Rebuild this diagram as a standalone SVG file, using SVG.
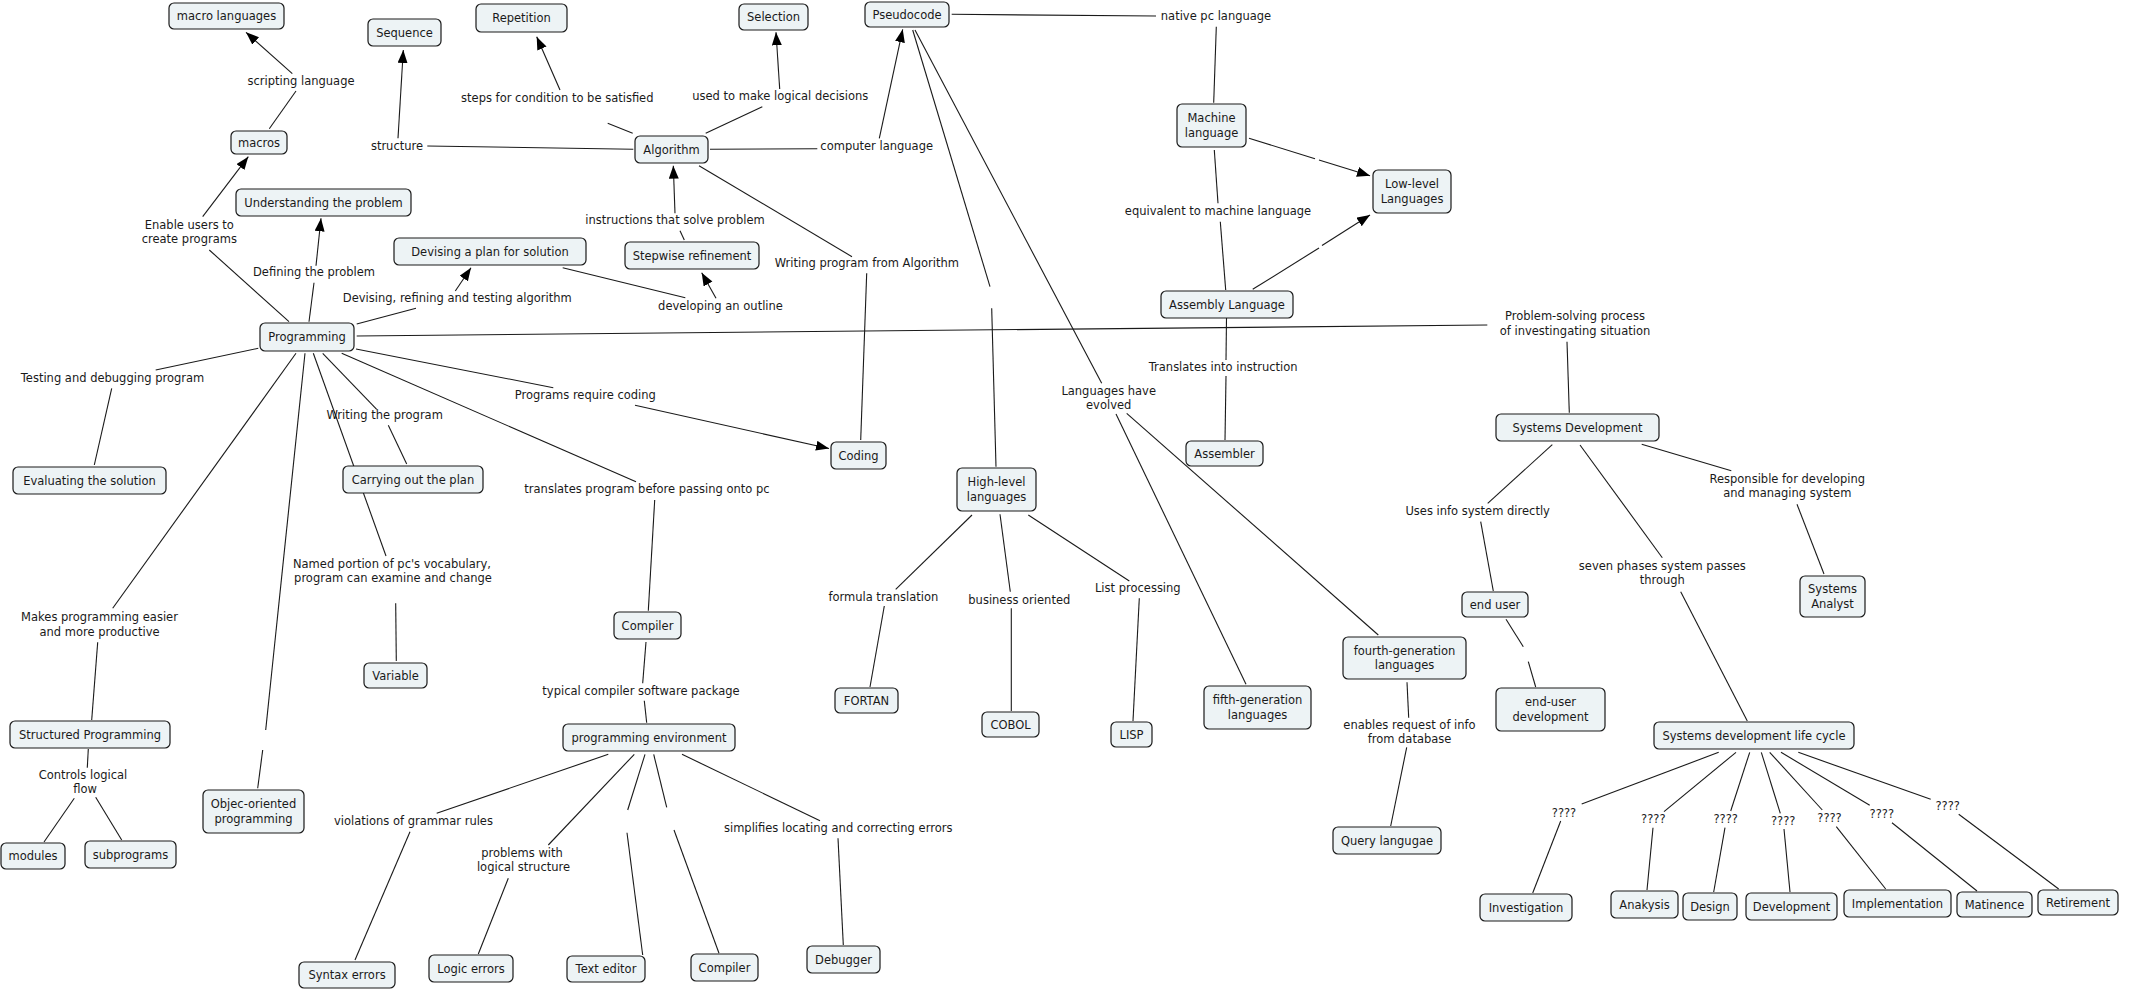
<svg xmlns="http://www.w3.org/2000/svg" width="2138" height="990" viewBox="0 0 2138 990">
<style>
.n rect{fill:#edf3f5;stroke:#1a1a1a;stroke-width:1.2}
text{font-family:"DejaVu Sans","Liberation Sans",sans-serif;font-size:11.5px;fill:#1a1a1a;text-anchor:middle}
.c line{stroke:#1a1a1a;stroke-width:1.1}
.c line.a{marker-end:url(#arr)}
</style>
<defs>
<marker id="arr" markerUnits="userSpaceOnUse" markerWidth="14" markerHeight="12" refX="13" refY="5" orient="auto">
<path d="M0,0 L13,5 L0,10 z" fill="#000"/>
</marker>
</defs>
<rect width="2138" height="990" fill="#fff"/>
<g class="c" id="connectors">
<line x1="269.3" y1="128.7" x2="296" y2="91"/>
<line class="a" x1="292.3" y1="73.7" x2="246" y2="32.3"/>
<line x1="289" y1="321.7" x2="209.3" y2="250"/>
<line class="a" x1="202.7" y1="216.7" x2="248.3" y2="156.7"/>
<line x1="309" y1="321.7" x2="314" y2="282.7"/>
<line class="a" x1="316" y1="265.7" x2="321" y2="218.3"/>
<line x1="356.7" y1="324" x2="416" y2="308.3"/>
<line class="a" x1="455.3" y1="291" x2="471" y2="267.7"/>
<line x1="633.3" y1="149.3" x2="427.3" y2="146"/>
<line class="a" x1="398" y1="138.3" x2="403.3" y2="50"/>
<line x1="632.7" y1="133.3" x2="607.7" y2="123.3"/>
<line class="a" x1="560" y1="90" x2="536.7" y2="36.7"/>
<line x1="705.7" y1="133.3" x2="762.3" y2="106.7"/>
<line class="a" x1="779.7" y1="89" x2="776" y2="32.3"/>
<line x1="710" y1="149.3" x2="817.3" y2="148.7"/>
<line class="a" x1="879.3" y1="138.3" x2="902.7" y2="29.3"/>
<line x1="684.3" y1="240" x2="680" y2="230.7"/>
<line class="a" x1="675" y1="213.3" x2="673.3" y2="165.7"/>
<line x1="562.7" y1="267.7" x2="685.3" y2="297.7"/>
<line class="a" x1="716" y1="298.3" x2="701.7" y2="272.7"/>
<line x1="699" y1="165.7" x2="852" y2="256.7"/>
<line x1="866.7" y1="273.3" x2="860.7" y2="440"/>
<line x1="951.7" y1="14.3" x2="1156" y2="16"/>
<line x1="1216.3" y1="26.7" x2="1213.7" y2="102.7"/>
<line x1="1249" y1="138.3" x2="1315" y2="158.7"/>
<line class="a" x1="1319" y1="160" x2="1370" y2="175.7"/>
<line x1="1252.7" y1="289.3" x2="1319" y2="248"/>
<line class="a" x1="1322" y1="245.5" x2="1370" y2="215"/>
<line x1="1225.7" y1="290" x2="1220.3" y2="221.7"/>
<line x1="1218" y1="203.3" x2="1214.3" y2="150"/>
<line x1="356.7" y1="336" x2="1487.3" y2="325"/>
<line x1="1567" y1="341.7" x2="1569.3" y2="412.7"/>
<line x1="1226.5" y1="318" x2="1226" y2="360"/>
<line x1="1226" y1="376" x2="1225" y2="440"/>
<line x1="912.7" y1="30" x2="990" y2="286.7"/>
<line x1="991.7" y1="308.3" x2="996" y2="466.7"/>
<line x1="915" y1="30" x2="1101.7" y2="383.3"/>
<line x1="1116" y1="414" x2="1246" y2="684.3"/>
<line x1="1126.7" y1="413.3" x2="1378.3" y2="635"/>
<line x1="258.3" y1="348.3" x2="155.7" y2="370"/>
<line x1="111.7" y1="388.3" x2="94.3" y2="465"/>
<line x1="322.7" y1="353.3" x2="376.7" y2="409.3"/>
<line x1="388.3" y1="425.3" x2="406.7" y2="464"/>
<line x1="313.3" y1="353.3" x2="386" y2="556"/>
<line x1="395.7" y1="603.3" x2="396.3" y2="661"/>
<line x1="296" y1="353.3" x2="112.7" y2="608.3"/>
<line x1="97.7" y1="642.3" x2="91.7" y2="720"/>
<line x1="305" y1="353.3" x2="265.7" y2="730"/>
<line x1="262.7" y1="750" x2="257.7" y2="788.3"/>
<line x1="356" y1="349" x2="553.3" y2="387.7"/>
<line class="a" x1="635" y1="405.3" x2="829" y2="448.5"/>
<line x1="341.7" y1="353.3" x2="636" y2="481.7"/>
<line x1="654.7" y1="500" x2="648.3" y2="610.7"/>
<line x1="646" y1="642" x2="642.7" y2="683.3"/>
<line x1="644.3" y1="700.7" x2="646.7" y2="722.7"/>
<line x1="608.3" y1="754.3" x2="436.7" y2="813.3"/>
<line x1="410" y1="831.7" x2="355" y2="960"/>
<line x1="634.3" y1="754.3" x2="548.3" y2="845"/>
<line x1="508.3" y1="878.3" x2="478.3" y2="954"/>
<line x1="645" y1="754.3" x2="627.7" y2="810"/>
<line x1="627" y1="832.7" x2="642.7" y2="955"/>
<line x1="653.7" y1="754.3" x2="666.7" y2="807.3"/>
<line x1="674" y1="830" x2="719" y2="953.3"/>
<line x1="682" y1="754.3" x2="820" y2="820.7"/>
<line x1="838" y1="838.3" x2="843.3" y2="945"/>
<line x1="972" y1="515" x2="895.7" y2="589.3"/>
<line x1="884.3" y1="606" x2="870" y2="687"/>
<line x1="1000" y1="514.3" x2="1010.3" y2="591.7"/>
<line x1="1011.3" y1="608.3" x2="1011.3" y2="711"/>
<line x1="1028.3" y1="515" x2="1129.3" y2="581"/>
<line x1="1139.3" y1="598.3" x2="1133" y2="721"/>
<line x1="1407" y1="682.3" x2="1408.7" y2="717.7"/>
<line x1="1406.7" y1="747.3" x2="1390.7" y2="826"/>
<line x1="1552.3" y1="444.7" x2="1487.7" y2="503.3"/>
<line x1="1480.7" y1="521.7" x2="1493.3" y2="591"/>
<line x1="1506" y1="619.3" x2="1523.3" y2="646.7"/>
<line x1="1528.3" y1="661.7" x2="1535.7" y2="687"/>
<line x1="1641.7" y1="444.3" x2="1731.3" y2="470.7"/>
<line x1="1797" y1="504.3" x2="1824" y2="574"/>
<line x1="1580" y1="445" x2="1662.3" y2="557.7"/>
<line x1="1680.7" y1="591.7" x2="1747.3" y2="721"/>
<line x1="1718.7" y1="752.3" x2="1581.7" y2="804"/>
<line x1="1560.7" y1="821" x2="1532.7" y2="893"/>
<line x1="1736" y1="752.3" x2="1664" y2="811.7"/>
<line x1="1653" y1="827.7" x2="1647" y2="890"/>
<line x1="1749.7" y1="752.3" x2="1730.7" y2="811"/>
<line x1="1725" y1="827.7" x2="1713.7" y2="892"/>
<line x1="1761.3" y1="752.3" x2="1780.3" y2="813.3"/>
<line x1="1784" y1="829" x2="1790" y2="892"/>
<line x1="1769.7" y1="752.3" x2="1822.3" y2="810"/>
<line x1="1836.3" y1="826.7" x2="1885.7" y2="889"/>
<line x1="1781" y1="752.3" x2="1869.7" y2="805.3"/>
<line x1="1892" y1="822.7" x2="1977" y2="891"/>
<line x1="1798.3" y1="752.3" x2="1930.7" y2="799.3"/>
<line x1="1958.7" y1="814.3" x2="2058.7" y2="889"/>
<line x1="88.3" y1="749" x2="87.3" y2="767.7"/>
<line x1="74.3" y1="798.3" x2="44" y2="842"/>
<line x1="95.7" y1="797.3" x2="121.7" y2="840"/>
</g>
<g id="link-labels">
<text x="301" y="85">scripting language</text>
<text x="189.3" y="229">Enable users to</text>
<text x="189.3" y="243.3">create programs</text>
<text x="397" y="150">structure</text>
<text x="314" y="276">Defining the problem</text>
<text x="457.3" y="301.7">Devising, refining and testing algorithm</text>
<text x="557.3" y="102">steps for condition to be satisfied</text>
<text x="780.3" y="100">used to make logical decisions</text>
<text x="876.7" y="150">computer language</text>
<text x="675" y="224">instructions that solve problem</text>
<text x="866.8" y="267">Writing program from Algorithm</text>
<text x="720.5" y="309.7">developing an outline</text>
<text x="1216" y="20">native pc language</text>
<text x="1218" y="215">equivalent to machine language</text>
<text x="1575" y="320">Problem-solving process</text>
<text x="1575" y="334.5">of investingating situation</text>
<text x="112.5" y="382">Testing and debugging program</text>
<text x="384.7" y="419">Writing the program</text>
<text x="392" y="568.3">Named portion of pc's vocabulary,</text>
<text x="393" y="582.3">program can examine and change</text>
<text x="99.5" y="620.7">Makes programming easier</text>
<text x="99.5" y="635.7">and more productive</text>
<text x="585.3" y="398.7">Programs require coding</text>
<text x="647" y="493">translates program before passing onto pc</text>
<text x="883.3" y="601">formula translation</text>
<text x="1019.3" y="604">business oriented</text>
<text x="1108.7" y="395">Languages have</text>
<text x="1108.7" y="409.3">evolved</text>
<text x="1223.2" y="370.7">Translates into instruction</text>
<text x="1477.7" y="515">Uses info system directly</text>
<text x="1137.8" y="591.7">List processing</text>
<text x="1787.3" y="483">Responsible for developing</text>
<text x="1787.3" y="497.3">and managing system</text>
<text x="1662.3" y="570">seven phases system passes</text>
<text x="1662.3" y="584.3">through</text>
<text x="83" y="779">Controls logical</text>
<text x="85" y="793.3">flow</text>
<text x="413.5" y="825">violations of grammar rules</text>
<text x="522" y="856.7">problems with</text>
<text x="523.5" y="871.3">logical structure</text>
<text x="641" y="695">typical compiler software package</text>
<text x="838.2" y="831.7">simplifies locating and correcting errors</text>
<text x="1409.5" y="729">enables request of info</text>
<text x="1409.5" y="743.3">from database</text>
<text x="1564" y="816.7">????</text>
<text x="1653.3" y="823.3">????</text>
<text x="1725.7" y="823.3">????</text>
<text x="1783.2" y="824.7">????</text>
<text x="1829.5" y="822.3">????</text>
<text x="1881.8" y="818.3">????</text>
<text x="1947.7" y="810">????</text>
</g>
<g class="n" id="n-macro-languages"><rect x="169" y="3" width="115" height="26" rx="5"/><text x="226.5" y="20">macro languages</text></g>
<g class="n" id="n-sequence"><rect x="368" y="19" width="73" height="27" rx="5"/><text x="404.5" y="36.5">Sequence</text></g>
<g class="n" id="n-repetition"><rect x="476" y="4" width="91" height="28" rx="5"/><text x="521.5" y="22">Repetition</text></g>
<g class="n" id="n-selection"><rect x="739" y="4" width="69" height="26" rx="5"/><text x="773.5" y="21">Selection</text></g>
<g class="n" id="n-pseudocode"><rect x="865" y="2" width="84" height="25" rx="5"/><text x="907" y="18.5">Pseudocode</text></g>
<g class="n" id="n-macros"><rect x="231" y="131" width="56" height="23" rx="5"/><text x="259" y="146.5">macros</text></g>
<g class="n" id="n-understanding"><rect x="236" y="189" width="175" height="27" rx="5"/><text x="323.5" y="206.5">Understanding the problem</text></g>
<g class="n" id="n-algorithm"><rect x="635" y="136" width="73" height="27" rx="5"/><text x="671.5" y="153.5">Algorithm</text></g>
<g class="n" id="n-devising"><rect x="394" y="238" width="192" height="27" rx="5"/><text x="490" y="255.5">Devising a plan for solution</text></g>
<g class="n" id="n-stepwise"><rect x="625" y="242" width="134" height="27" rx="5"/><text x="692" y="259.5">Stepwise refinement</text></g>
<g class="n" id="n-machine"><rect x="1177" y="104" width="69" height="43" rx="5"/><text x="1211.5" y="122">Machine</text><text x="1211.5" y="136.5">language</text></g>
<g class="n" id="n-lowlevel"><rect x="1373" y="170" width="78" height="43" rx="5"/><text x="1412" y="188">Low-level</text><text x="1412" y="202.5">Languages</text></g>
<g class="n" id="n-assembly"><rect x="1161" y="291" width="132" height="27" rx="5"/><text x="1227" y="308.5">Assembly Language</text></g>
<g class="n" id="n-programming"><rect x="260" y="323" width="94" height="28" rx="5"/><text x="307" y="341">Programming</text></g>
<g class="n" id="n-evaluating"><rect x="13" y="467" width="153" height="27" rx="5"/><text x="89.5" y="484.5">Evaluating the solution</text></g>
<g class="n" id="n-carrying"><rect x="343" y="466" width="140" height="27" rx="5"/><text x="413" y="483.5">Carrying out the plan</text></g>
<g class="n" id="n-coding"><rect x="831" y="442" width="55" height="27" rx="5"/><text x="858.5" y="459.5">Coding</text></g>
<g class="n" id="n-highlevel"><rect x="957" y="468" width="79" height="43" rx="5"/><text x="996.5" y="486">High-level</text><text x="996.5" y="500.5">languages</text></g>
<g class="n" id="n-compiler1"><rect x="614" y="612" width="67" height="27" rx="5"/><text x="647.5" y="629.5">Compiler</text></g>
<g class="n" id="n-assembler"><rect x="1186" y="441" width="77" height="25" rx="5"/><text x="1224.5" y="457.5">Assembler</text></g>
<g class="n" id="n-sysdev"><rect x="1496" y="414" width="163" height="27" rx="5"/><text x="1577.5" y="431.5">Systems Development</text></g>
<g class="n" id="n-enduser"><rect x="1462" y="592" width="66" height="25" rx="5"/><text x="1495" y="608.5">end user</text></g>
<g class="n" id="n-fourthgen"><rect x="1343" y="637" width="123" height="42" rx="5"/><text x="1404.5" y="654.5">fourth-generation</text><text x="1404.5" y="669">languages</text></g>
<g class="n" id="n-analyst"><rect x="1800" y="576" width="65" height="41" rx="5"/><text x="1832.5" y="593">Systems</text><text x="1832.5" y="607.5">Analyst</text></g>
<g class="n" id="n-variable"><rect x="364" y="663" width="63" height="25" rx="5"/><text x="395.5" y="679.5">Variable</text></g>
<g class="n" id="n-structured"><rect x="10" y="721" width="160" height="27" rx="5"/><text x="90" y="738.5">Structured Programming</text></g>
<g class="n" id="n-modules"><rect x="1" y="843" width="64" height="26" rx="5"/><text x="33" y="860">modules</text></g>
<g class="n" id="n-subprograms"><rect x="85" y="841" width="91" height="27" rx="5"/><text x="130.5" y="858.5">subprograms</text></g>
<g class="n" id="n-oop"><rect x="203" y="790" width="101" height="43" rx="5"/><text x="253.5" y="808">Objec-oriented</text><text x="253.5" y="822.5">programming</text></g>
<g class="n" id="n-syntax"><rect x="299" y="962" width="96" height="26" rx="5"/><text x="347" y="979">Syntax errors</text></g>
<g class="n" id="n-logic"><rect x="429" y="955" width="84" height="27" rx="5"/><text x="471" y="972.5">Logic errors</text></g>
<g class="n" id="n-progenv"><rect x="563" y="724" width="172" height="27" rx="5"/><text x="649" y="741.5">programming environment</text></g>
<g class="n" id="n-fortan"><rect x="835" y="688" width="63" height="25" rx="5"/><text x="866.5" y="704.5">FORTAN</text></g>
<g class="n" id="n-cobol"><rect x="982" y="712" width="57" height="25" rx="5"/><text x="1010.5" y="728.5">COBOL</text></g>
<g class="n" id="n-texteditor"><rect x="567" y="956" width="78" height="26" rx="5"/><text x="606" y="973">Text editor</text></g>
<g class="n" id="n-compiler2"><rect x="691" y="954" width="67" height="27" rx="5"/><text x="724.5" y="971.5">Compiler</text></g>
<g class="n" id="n-debugger"><rect x="807" y="946" width="73" height="27" rx="5"/><text x="843.5" y="963.5">Debugger</text></g>
<g class="n" id="n-lisp"><rect x="1111" y="722" width="41" height="25" rx="5"/><text x="1131.5" y="738.5">LISP</text></g>
<g class="n" id="n-fifthgen"><rect x="1204" y="686" width="107" height="43" rx="5"/><text x="1257.5" y="704">fifth-generation</text><text x="1257.5" y="718.5">languages</text></g>
<g class="n" id="n-enduserdev"><rect x="1496" y="688" width="109" height="43" rx="5"/><text x="1550.5" y="706">end-user</text><text x="1550.5" y="720.5">development</text></g>
<g class="n" id="n-query"><rect x="1333" y="827" width="108" height="27" rx="5"/><text x="1387" y="844.5">Query langugae</text></g>
<g class="n" id="n-investigation"><rect x="1480" y="894" width="92" height="27" rx="5"/><text x="1526" y="911.5">Investigation</text></g>
<g class="n" id="n-sdlc"><rect x="1654" y="722" width="200" height="27" rx="5"/><text x="1754" y="739.5">Systems development life cycle</text></g>
<g class="n" id="n-anakysis"><rect x="1611" y="891" width="67" height="27" rx="5"/><text x="1644.5" y="908.5">Anakysis</text></g>
<g class="n" id="n-design"><rect x="1683" y="893" width="54" height="27" rx="5"/><text x="1710" y="910.5">Design</text></g>
<g class="n" id="n-development"><rect x="1746" y="893" width="91" height="27" rx="5"/><text x="1791.5" y="910.5">Development</text></g>
<g class="n" id="n-implementation"><rect x="1844" y="890" width="107" height="27" rx="5"/><text x="1897.5" y="907.5">Implementation</text></g>
<g class="n" id="n-matinence"><rect x="1957" y="892" width="75" height="25" rx="5"/><text x="1994.5" y="908.5">Matinence</text></g>
<g class="n" id="n-retirement"><rect x="2038" y="890" width="80" height="25" rx="5"/><text x="2078" y="906.5">Retirement</text></g>
</svg>
